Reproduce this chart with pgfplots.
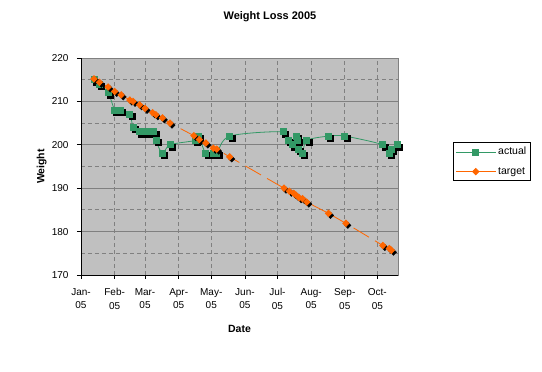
\documentclass[border=0pt]{standalone}
\usepackage{pgfplots}
\usepackage{pgfplotstable}
\pgfplotsset{compat=1.18}
\usepackage{fontspec}
\setmainfont{Liberation Sans}
\definecolor{actualc}{HTML}{339966}
\definecolor{targetc}{HTML}{FF6600}
\definecolor{plotbg}{HTML}{C0C0C0}
\definecolor{gridc}{HTML}{808080}
% x = day of 2005 (0 = 1 Jan)
\pgfplotstableread{
day w
12 215
17 214
25 212
31 208
34 208
36 208
45 207
48 204
54 203
59 203
64 203
67 203
69 201
75 198
82 200
105 201
108 202
115 198
122 198
125 198
137 202
186 203
191 201
195 200
198 202
199 201
200 199
204 198
208 201
228 202
243 202
278 200
284 198
286 199
291 200
}\actualdata
\pgfplotstableread{
day w
12 215.2
17 214.4
25 213.3
31 212.3
37 211.5
45 210.3
48 210.0
54 209.2
59 208.4
66 207.4
69 206.9
75 206.2
82 205.0
104 202.1
109 201.2
115 200.4
122 199.2
125 199.0
137 197.2
187 190.0
192 189.3
196 188.8
198 188.4
201 187.8
204 187.6
208 186.8
228 184.2
244 181.9
278 176.8
284 176.1
286 175.7
}\targetdata
\begin{document}
\begin{tikzpicture}
\path[use as bounding box] (0,0) rectangle (542pt,372pt);
\begin{axis}[
  at={(81pt,97pt)}, anchor=south west,
  scale only axis, width=317pt, height=217pt,
  xmin=0, xmax=292, ymin=170, ymax=220,
  axis lines*=left,
  axis line style={black, line width=0.9pt},
  axis background/.style={fill=plotbg, draw=gridc, line width=0.9pt},
  xtick={0,31,59,90,120,151,181,212,243,273},
  xticklabels={Jan-\\05,Feb-\\05,Mar-\\05,Apr-\\05,May-\\05,Jun-\\05,Jul-\\05,Aug-\\05,Sep-\\05,Oct-\\05},
  xticklabel style={align=center, font=\fontsize{10}{13.5}\selectfont, yshift=-6pt},
  ytick={170,180,...,220},
  minor y tick num=1,
  yticklabel style={font=\fontsize{10}{12}\selectfont, xshift=-5pt},
  /pgf/number format/assume math mode=true,
  xmajorgrids, ymajorgrids, yminorgrids,
  major grid style={gridc, line width=0.8pt, solid},
  minor grid style={gridc, line width=0.8pt, dash pattern=on 4pt off 3pt},
  x grid style={dash pattern=on 4pt off 3pt},
  tick align=outside, major tick length=4pt, minor tick length=0pt,
  tick style={black, line width=0.8pt},
  title={Weight Loss 2005},
  title style={at={(axis description cs:0.596,1.152)}, anchor=base, font=\bfseries\fontsize{11}{13}\selectfont},
  xlabel={Date},
  xlabel style={at={(axis description cs:0.5,-0.267)}, anchor=base, font=\bfseries\fontsize{10.5}{12}\selectfont},
  ylabel={Weight},
  ylabel style={at={(axis description cs:-0.124,0.5)}, anchor=center, rotate=0, font=\bfseries\fontsize{10.5}{12}\selectfont},
  legend style={at={(axis description cs:1.1735,0.613)}, anchor=north west, draw=black, line width=0.8pt, fill=white,
    font=\fontsize{10.5}{12}\selectfont, row sep=7pt, inner xsep=2pt, inner ysep=3pt, cells={anchor=west}},
  legend image code/.code={\draw[mark repeat=2,mark phase=2,#1,solid] plot coordinates {(0pt,0pt) (20pt,0pt) (40pt,0pt)};},
]
\addplot[only marks, mark=square*, mark size=3pt, black, mark options={xshift=2pt,yshift=-2pt}, forget plot] table[x=day,y=w] {\actualdata};
\addplot[actualc, line width=0.8pt, smooth, mark=square*, mark size=3pt, mark options={fill=actualc, draw=actualc}] table[x=day,y=w] {\actualdata};
\addlegendentry{actual}
\addplot[only marks, mark=diamond*, mark size=3.2pt, black, mark options={xshift=2pt,yshift=-2pt, xscale=1.3}, forget plot] table[x=day,y=w] {\targetdata};
\addplot[targetc, line width=0.8pt, dash pattern=on 18pt off 7pt, mark=diamond*, mark size=3.2pt, mark options={fill=targetc, draw=targetc, solid, xscale=1.3}] table[x=day,y=w] {\targetdata};
\addlegendentry{target}
\end{axis}
\end{tikzpicture}
\end{document}
